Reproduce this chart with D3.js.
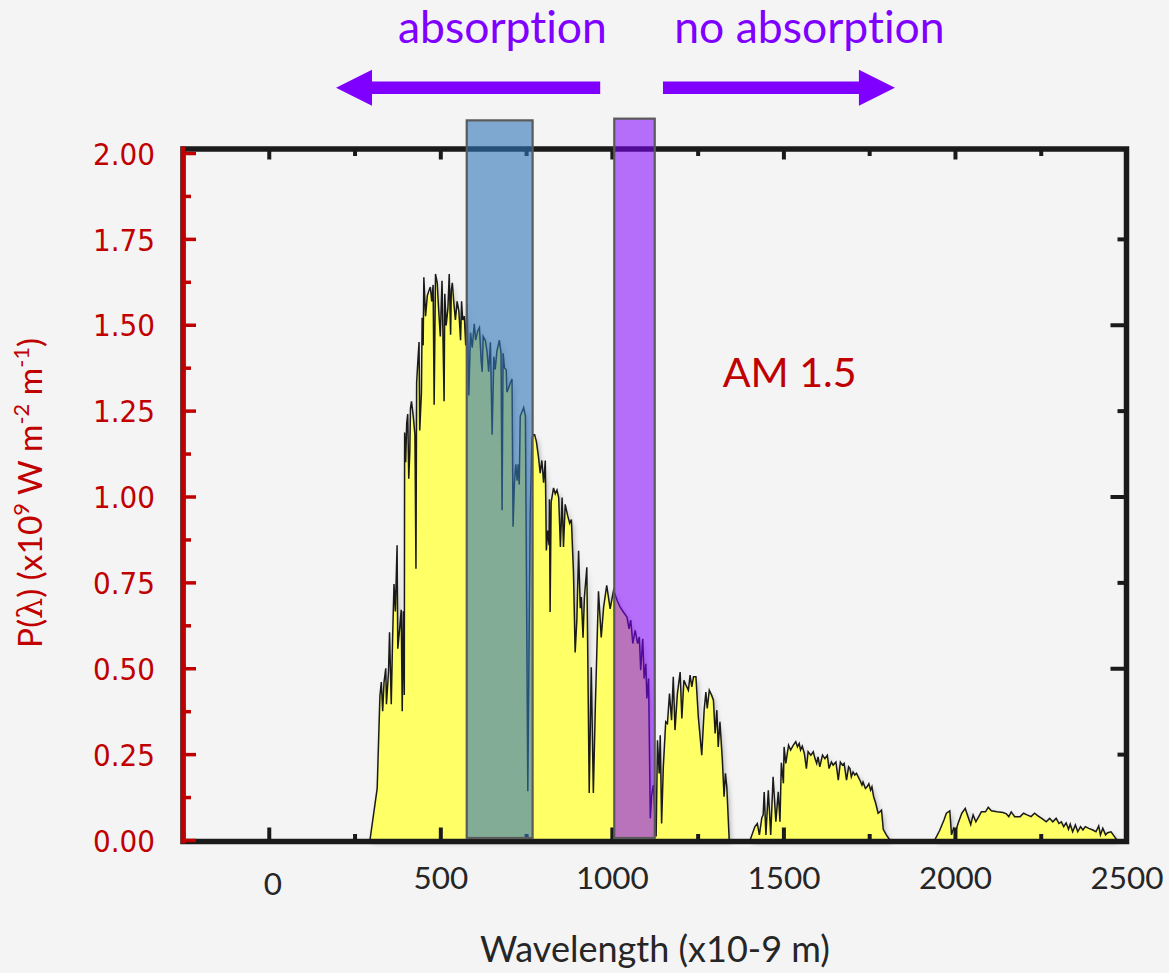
<!DOCTYPE html>
<html><head><meta charset="utf-8">
<script src="https://cdn.jsdelivr.net/npm/d3@7"></script>
<style>
html,body{margin:0;padding:0;background:#f4f4f4;}
svg{display:block;}
text{font-variant-ligatures:none;font-feature-settings:"liga" 0,"clig" 0;}
</style></head><body>
<svg id="chart" width="1169" height="973"></svg>
<script>
// ---- data ----
const wavelength = [295,316,324,328,332,336,341,343,349,352,357,361,365,369,374,376,382,386,389,392,395,396,399,402,405,408,411,413,416,421,426,429,431,434,438,440,445,447,450,452,457,462,467,471,475,479,482,486,491,495,500,505,511,513,517,522,526,530,532,535,539,544,549,554,559,562,565,570,574,578,583,588,593,599,603,609,614,619,622,625,631,636,641,646,651,656,660,665,672,677,680,683,687,692,694,699,704,709,712,716,720,724,727,730,733,743,748,755,762,767,772,775,780,786,791,796,801,806,809,813,817,818,820,823,830,835,840,845,850,855,859,864,871,877,882,888,893,898,903,908,911,916,920,927,934,940,946,952,961,969,976,985,995,1005,1015,1024,1034,1044,1050,1055,1061,1068,1075,1080,1084,1090,1094,1099,1102,1107,1112,1116,1121,1129,1133,1138,1141,1145,1150,1157,1162,1168,1174,1179,1184,1191,1199,1204,1210,1216,1223,1228,1233,1238,1245,1252,1262,1269,1274,1278,1284,1291,1296,1301,1306,1310,1315,1322,1327,1331,1335,1342,1403,1417,1424,1430,1437,1441,1444,1449,1456,1463,1470,1478,1485,1490,1494,1500,1502,1507,1515,1521,1529,1536,1541,1546,1550,1555,1561,1567,1572,1580,1587,1592,1597,1601,1606,1614,1621,1628,1633,1640,1645,1653,1660,1666,1672,1677,1684,1690,1694,1698,1703,1708,1713,1723,1729,1732,1739,1744,1749,1754,1758,1763,1769,1776,1781,1786,1791,1800,1810,1941,1955,1968,1975,1985,1990,1996,2002,2009,2020,2030,2038,2046,2053,2061,2077,2089,2097,2106,2123,2140,2150,2157,2164,2174,2190,2200,2210,2222,2232,2242,2256,2266,2276,2285,2295,2303,2310,2317,2324,2331,2336,2343,2351,2358,2366,2373,2380,2390,2402,2411,2419,2424,2431,2439,2445,2455,2465,2472];
const power = [0,0.15,0.42,0.46,0.375,0.46,0.5,0.395,0.49,0.605,0.395,0.59,0.745,0.665,0.858,0.557,0.622,0.67,0.375,0.666,0.422,1.186,1.1,1.213,1.24,1.052,1.128,1.256,1.277,1.234,1.18,0.79,1.331,1.385,1.45,1.192,1.304,1.52,1.44,1.638,1.525,1.584,1.6,1.61,1.568,1.616,1.267,1.648,1.622,1.546,1.466,1.628,1.277,1.59,1.498,1.546,1.648,1.471,1.6,1.622,1.568,1.514,1.568,1.54,1.455,1.568,1.514,1.525,1.44,1.563,1.294,1.477,1.433,1.503,1.455,1.482,1.492,1.395,1.363,1.466,1.455,1.423,1.363,1.449,1.18,1.407,1.37,1.423,1.455,1.417,0.96,1.417,1.374,1.369,1.304,1.315,1.331,1.342,0.912,1.041,1.094,1.046,1.094,1.035,1.234,1.259,1.234,0.142,0.95,1.17,1.18,1.18,1.16,1.116,1.068,1.105,1.04,1.105,0.843,0.901,0.858,0.992,0.664,0.983,1.025,1.008,1.019,0.997,0.853,0.997,0.853,0.977,0.945,0.922,0.933,0.782,0.546,0.642,0.842,0.675,0.707,0.589,0.707,0.794,0.137,0.503,0.137,0.395,0.724,0.59,0.678,0.741,0.673,0.727,0.698,0.678,0.663,0.649,0.615,0.64,0.572,0.61,0.572,0.591,0.494,0.586,0.47,0.513,0.412,0.47,0.063,0.131,0.16,0.01,0.29,0.194,0.305,0.048,0.213,0.344,0.339,0.426,0.349,0.475,0.32,0.426,0.489,0.354,0.465,0.451,0.436,0.48,0.446,0.475,0.475,0.358,0.247,0.378,0.431,0.383,0.436,0.421,0.407,0.31,0.378,0.271,0.344,0.233,0.126,0.194,0.155,0,0,0.039,0.048,0.015,0.064,0.073,0.14,0.015,0.145,0.015,0.184,0.053,0.14,0.053,0.225,0.165,0.271,0.223,0.276,0.262,0.276,0.286,0.271,0.281,0.262,0.273,0.252,0.208,0.257,0.247,0.257,0.237,0.223,0.242,0.213,0.247,0.237,0.247,0.208,0.227,0.218,0.227,0.174,0.227,0.218,0.223,0.174,0.213,0.208,0.184,0.198,0.189,0.194,0.174,0.16,0.169,0.15,0.155,0.164,0.145,0.155,0.126,0.107,0.078,0.082,0.087,0.031,0.015,0,0,0.027,0.058,0.078,0.085,0.015,0.034,0.024,0.048,0.078,0.092,0.068,0.045,0.073,0.053,0.082,0.082,0.095,0.085,0.082,0.08,0.076,0.068,0.082,0.068,0.068,0.078,0.073,0.068,0.078,0.07,0.061,0.053,0.063,0.053,0.063,0.048,0.053,0.039,0.05,0.031,0.046,0.024,0.044,0.024,0.039,0.029,0.039,0.034,0.029,0.024,0.041,0.015,0.034,0.015,0.021,0.024,0.01,0];

const xMajorTicks = [0, 500, 1000, 1500, 2000, 2500];
const xTickLabels = ["0", "500", "1000", "1500", "2000", "2500"];
const xMinorTicks = [250, 750, 1250, 1750, 2250];
const topMajorTicks = [0, 500, 1000, 1500, 2000];
const yMajorTicks = [0, 0.25, 0.5, 0.75, 1.0, 1.25, 1.5, 1.75, 2.0];
const yTickLabels = ["0.00", "0.25", "0.50", "0.75", "1.00", "1.25", "1.50", "1.75", "2.00"];
const yMinorTicks = [0.125, 0.375, 0.625, 0.875, 1.125, 1.375, 1.625, 1.875];
const rightMajorTicks = [0.5, 1.0, 1.5];
const rightMinorTicks = [0.25, 0.75, 1.25, 1.75];

const bandStart = [577, 1007];
const bandEnd = [769, 1125];
const bandTop = [2.095, 2.10];
const bandColors = ["#2E75B6", "#7F00FF"];

const arrowFrom = [966, 1149];
const arrowTo = [196, 1825];
const arrowLabels = ["absorption", "no absorption"];
const arrowLabelAt = [681, 1576];

// ---- layout ----
const svg = d3.select("#chart");
const x = d3.scaleLinear().domain([-250, 2500]).range([183, 1126.5]);
const y = d3.scaleLinear().domain([0, 2]).range([840, 153]);
const INK = "#1a1a1a", RED = "#C00000", VIOLET = "#7F00FF";
const CAL = "Lato, 'Open Sans', sans-serif";

svg.append("rect").attr("width", 1169).attr("height", 973).attr("fill", "#f4f4f4");

const defs = svg.append("defs");
defs.append("filter").attr("id", "sh").attr("x", "-5%").attr("y", "-5%").attr("width", "115%").attr("height", "115%")
  .append("feDropShadow").attr("dx", 2).attr("dy", 3).attr("stdDeviation", 2.5)
  .attr("flood-color", "#000").attr("flood-opacity", 0.28);

function fitWidth(sel, w) {
  const len = sel.node().getComputedTextLength();
  const fs = parseFloat(sel.attr("font-size"));
  const nfs = fs * w / len;
  sel.attr("font-size", nfs);
  return nfs;
}

// spectrum
const idx = d3.range(wavelength.length);
const area = d3.area().x(i => x(wavelength[i])).y0(y(0)).y1(i => y(power[i]));
const line = d3.line().x(i => x(wavelength[i])).y(i => y(power[i]));
const spec = svg.append("g").attr("filter", "url(#sh)");
spec.append("path").datum(idx).attr("d", area).attr("fill", "#FFFF66");
svg.append("path").datum(idx).attr("d", line).attr("fill", "none")
  .attr("stroke", INK).attr("stroke-width", 1.5).attr("stroke-linejoin", "miter");

// frame
const fx0 = x(-250), fx1 = x(2500), fy0 = y(2) - 4, fy1 = y(0) + 1.5;
svg.append("rect").attr("x", fx0).attr("y", fy0).attr("width", fx1 - fx0).attr("height", fy1 - fy0)
  .attr("fill", "none").attr("stroke", INK).attr("stroke-width", 5.5);

function styleAxis(g, color, w) {
  g.select(".domain").remove();
  g.selectAll(".tick line").attr("stroke", color).attr("stroke-width", w);
}
// bottom
const gB = svg.append("g").attr("transform", `translate(0,${fy1})`)
  .call(d3.axisBottom(x).tickValues(xMajorTicks).tickSize(-14).tickFormat((d, i) => xTickLabels[i]));
styleAxis(gB, INK, 4);
gB.selectAll(".tick text").attr("y", 47.5).attr("dy", 0).attr("fill", "#262626")
  .attr("font-family", CAL).attr("font-size", 31);
svg.append("g").attr("transform", `translate(0,${fy1})`)
  .call(d3.axisBottom(x).tickValues(xMinorTicks).tickSize(-7.5).tickFormat(""))
  .call(g => styleAxis(g, INK, 4));
// top
svg.append("g").attr("transform", `translate(0,${fy0})`)
  .call(d3.axisTop(x).tickValues(topMajorTicks).tickSize(-10.5).tickFormat(""))
  .call(g => styleAxis(g, INK, 4));
svg.append("g").attr("transform", `translate(0,${fy0})`)
  .call(d3.axisTop(x).tickValues(xMinorTicks).tickSize(-7).tickFormat(""))
  .call(g => styleAxis(g, INK, 4));
// right
svg.append("g").attr("transform", `translate(${fx1},0)`)
  .call(d3.axisRight(y).tickValues(rightMajorTicks).tickSize(-16).tickFormat(""))
  .call(g => styleAxis(g, INK, 4));
svg.append("g").attr("transform", `translate(${fx1},0)`)
  .call(d3.axisRight(y).tickValues(rightMinorTicks).tickSize(-9).tickFormat(""))
  .call(g => styleAxis(g, INK, 4));
// left (red)
svg.append("line").attr("x1", fx0).attr("x2", fx0).attr("y1", fy0 - 2.5).attr("y2", fy1 + 2)
  .attr("stroke", RED).attr("stroke-width", 4.5);
const gL = svg.append("g").attr("transform", `translate(${fx0},0)`)
  .call(d3.axisLeft(y).tickValues(yMajorTicks).tickSize(-13).tickPadding(28).tickFormat((d, i) => yTickLabels[i]));
styleAxis(gL, RED, 3.5);
gL.selectAll(".tick text").attr("fill", RED).attr("dy", "0.36em")
  .attr("font-family", "'DejaVu Sans Condensed', 'DejaVu Sans', sans-serif")
  .style("font-stretch", "condensed").attr("font-size", 31);
svg.append("g").attr("transform", `translate(${fx0},0)`)
  .call(d3.axisLeft(y).tickValues(yMinorTicks).tickSize(-8).tickFormat(""))
  .call(g => styleAxis(g, RED, 3.5));

// fit tick label sizes
{
  const t = gB.selectAll(".tick text").filter((d, i) => i === 5);
  const fs = fitWidth(t, 73);
  gB.selectAll(".tick text").attr("font-size", fs);
  gB.selectAll(".tick text").filter((d, i) => i === 0).attr("dx", 3.5).attr("y", 53.5);
  const tl = gL.selectAll(".tick text").filter((d, i) => i === 8);
  const fl = fitWidth(tl, 62);
  gL.selectAll(".tick text").attr("font-size", fl);
}

// bands
svg.append("g").selectAll("rect").data(bandStart).join("rect")
  .attr("x", (d, i) => x(bandStart[i]))
  .attr("width", (d, i) => x(bandEnd[i]) - x(bandStart[i]))
  .attr("y", (d, i) => y(bandTop[i]))
  .attr("height", (d, i) => y(0) - 2 - y(bandTop[i]))
  .attr("fill", (d, i) => bandColors[i]).attr("fill-opacity", (d, i) => i === 0 ? 0.6 : 0.55)
  .attr("stroke", "#5a5a5a").attr("stroke-width", 2.2);

// arrows
const ay = y(2.19);
function arrowPath(x0, x1) {
  const dir = Math.sign(x1 - x0), hl = 36, hh = 18, sh = 6.2;
  const xb = x1 - dir * hl;
  return `M${x0},${ay - sh}L${xb},${ay - sh}L${xb},${ay - hh}L${x1},${ay}L${xb},${ay + hh}L${xb},${ay + sh}L${x0},${ay + sh}Z`;
}
svg.append("g").selectAll("path").data(arrowFrom).join("path")
  .attr("d", (d, i) => arrowPath(x(arrowFrom[i]), x(arrowTo[i])))
  .attr("fill", VIOLET);
const labs = svg.append("g").selectAll("text").data(arrowLabels).join("text")
  .attr("x", (d, i) => x(arrowLabelAt[i])).attr("y", 43)
  .attr("text-anchor", "middle").attr("fill", VIOLET)
  .attr("font-family", CAL).attr("font-size", 42).text(d => d);
{
  const fs = fitWidth(labs.filter((d, i) => i === 0), 209);
  labs.attr("font-size", fs);
}

// AM 1.5
const am = svg.append("text").attr("x", x(1323)).attr("y", y(1.319)).attr("fill", RED)
  .attr("font-family", CAL).attr("font-size", 40).text("AM 1.5");
fitWidth(am, 134);

// x title
const xt = svg.append("text").attr("x", 655).attr("y", 962).attr("text-anchor", "middle")
  .attr("fill", "#262626").attr("font-family", CAL).attr("font-size", 32).text("Wavelength (x10-9 m)");
fitWidth(xt, 350);

// y title
const yt = svg.append("text").attr("transform", "translate(42,493) rotate(-90)")
  .attr("text-anchor", "middle").attr("fill", RED).attr("font-family", CAL).attr("font-size", 32);
yt.append("tspan").text("P(");
yt.append("tspan").attr("font-family", "'DejaVu Serif', serif").text("λ");
yt.append("tspan").text(") (x10");
yt.append("tspan").attr("font-size", "65%").attr("baseline-shift", "super").text("9");
yt.append("tspan").text(" W m");
yt.append("tspan").attr("font-size", "65%").attr("baseline-shift", "super").text("-2");
yt.append("tspan").text(" m");
yt.append("tspan").attr("font-size", "65%").attr("baseline-shift", "super").text("-1");
yt.append("tspan").text(")");
fitWidth(yt, 310);
</script>
</body></html>
